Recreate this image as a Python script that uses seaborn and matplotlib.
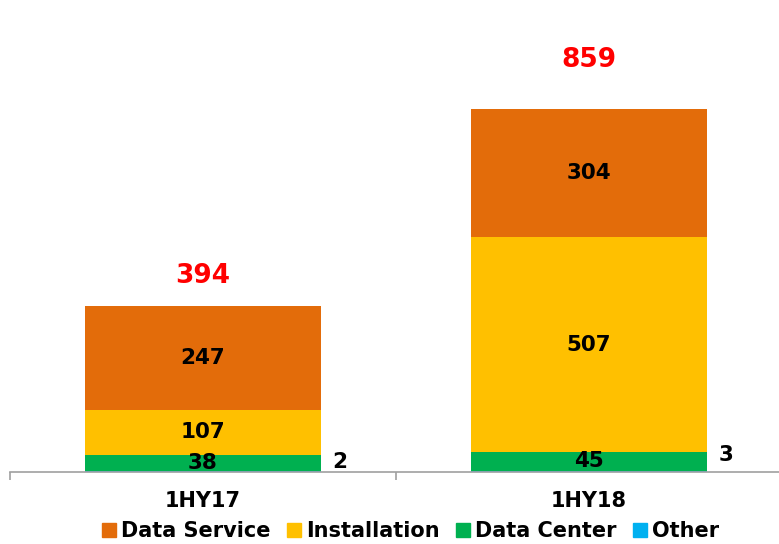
import matplotlib
matplotlib.use("Agg")
import matplotlib.pyplot as plt
from matplotlib.lines import Line2D
import seaborn as sns
import pandas as pd
import numpy as np

categories = ["1HY17", "1HY18"]
other = [2, 3]
data_center = [38, 45]
installation = [107, 507]
data_service = [247, 304]
totals = [394, 859]

series_names = ["Data Service", "Installation", "Data Center", "Other"]
colors = {"Data Service": "#E36C0A", "Installation": "#FFC000",
          "Data Center": "#00B050", "Other": "#00B0F0"}

sns.set_theme(style="white")
plt.rcParams['font.family'] = ['DejaVu Sans']
plt.rcParams['text.color'] = 'black'
plt.rcParams['xtick.color'] = 'black'

fig = plt.figure(figsize=(7.79, 5.44), dpi=100)
ax_bottom = (544 - 472) / 544
ax = fig.add_axes([10 / 779, ax_bottom, 772 / 779, 1 - ax_bottom])
ymax = 472 / (363 / 859)

stack_order = [("Other", other), ("Data Center", data_center),
               ("Installation", installation), ("Data Service", data_service)]
bottoms = np.zeros(len(categories))
segments = []
for name, vals in stack_order:
    df = pd.DataFrame({"cat": categories, "val": vals})
    sns.barplot(data=df, x="cat", y="val", order=categories, color=colors[name],
                width=0.61, bottom=bottoms, ax=ax, saturation=1, linewidth=0,
                errorbar=None)
    segments.append((name, vals, bottoms.copy()))
    bottoms = bottoms + np.array(vals)

px = 0.72  # points per pixel at dpi 100
for name, vals, bots in segments:
    for i, v in enumerate(vals):
        if name == "Other":
            yoff = [0, 7][i]
            ax.annotate(str(v), (i + 0.305 + 0.05, 0), xytext=(0, yoff * px),
                        textcoords="offset points", ha="center", va="bottom",
                        fontsize=15.5, fontweight="bold", color="black")
        else:
            ax.text(i, bots[i] + v / 2, str(v), ha="center", va="center",
                    fontsize=15.5, fontweight="bold", color="black")

gaps = [17, 36]
for i, t in enumerate(totals):
    ax.annotate(str(t), (i, t), xytext=(0, gaps[i] * px), textcoords="offset points",
                ha="center", va="bottom", fontsize=19, fontweight="bold",
                color="#FF0000")

ax.set_xlim(-0.5, 1.5)
ax.set_ylim(0, ymax)
ax.set_xlabel("")
ax.set_ylabel("")
ax.set_yticks([])
for s in ["top", "right", "left"]:
    ax.spines[s].set_visible(False)
ax.spines["bottom"].set_color("#A0A0A0")
ax.spines["bottom"].set_linewidth(1.2)
ax.set_xticks([0, 1])
ax.set_xticklabels(categories, fontsize=15, fontweight="bold", color="black")
ax.tick_params(axis="x", which="major", length=0, pad=14)
ax.set_xticks([-0.5, 0.5, 1.5], minor=True)
ax.tick_params(axis="x", which="minor", length=6, color="#A0A0A0", width=1.2,
               direction="out", bottom=True)

handles = [Line2D([0], [0], marker="s", linestyle="", markersize=10,
                  markerfacecolor=colors[n], markeredgecolor=colors[n])
           for n in series_names]
leg = fig.legend(handles, series_names, loc="center", ncol=4,
                 bbox_to_anchor=(409 / 779, 1 - 531 / 544), frameon=False,
                 prop={"size": 15, "weight": "bold"}, handletextpad=0.1,
                 columnspacing=0.6, handlelength=1.0)
for t in leg.get_texts():
    t.set_color("black")

fig.savefig("out.png", dpi=100)
